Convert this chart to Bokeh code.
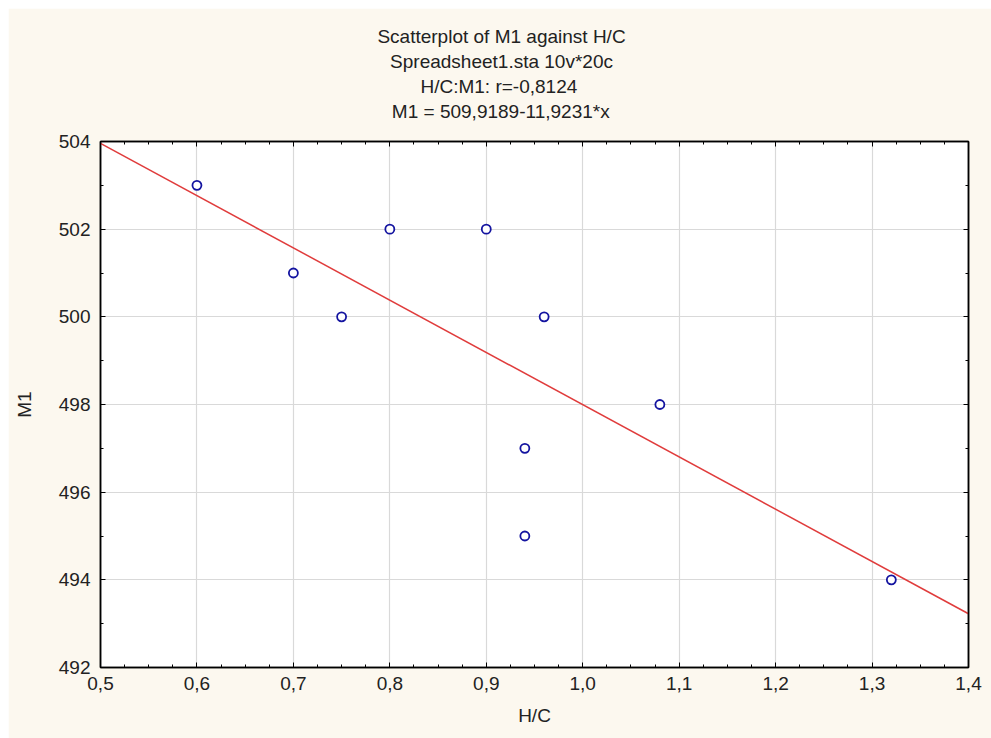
from bokeh.plotting import figure
from bokeh.models import LinearAxis, FixedTicker, CustomJSTickFormatter, Title
from bokeh.embed import file_html
from bokeh.resources import INLINE

hc = [0.60, 0.70, 0.75, 0.80, 0.90, 0.94, 0.94, 0.96, 1.08, 1.32]
m1 = [503, 501, 500, 502, 502, 497, 495, 500, 498, 494]
intercept = 509.9189
slope = -11.9231
x_ticks = [0.5, 0.6, 0.7, 0.8, 0.9, 1.0, 1.1, 1.2, 1.3, 1.4]
y_ticks = [492, 494, 496, 498, 500, 502, 504]
titles = ["Scatterplot of M1 against H/C", "Spreadsheet1.sta 10v*20c",
          "H/C:M1:  r=-0,8124", "M1 = 509,9189-11,9231*x"]

FONT = "Liberation Sans"
BG = "#fcf8ef"
W, H = 983, 730
FS = 19

p = figure(width=W, height=H, output_backend="svg", toolbar_location=None,
           x_range=(0.5, 1.4), y_range=(492, 504),
           min_border_left=92, min_border_right=23, min_border_top=133, min_border_bottom=71,
           border_fill_color=BG, background_fill_color="white",
           outline_line_color="black", outline_line_width=1.5)
p.margin = (8, 0, 0, 8)

xt = FixedTicker(ticks=x_ticks, minor_ticks=[0.5 + 0.025 * i for i in range(37)])
yt = FixedTicker(ticks=y_ticks, minor_ticks=list(range(492, 505)))
fmt = CustomJSTickFormatter(code="return tick.toFixed(1).replace('.', ',');")
blank = CustomJSTickFormatter(code="return '';")

for ax in p.xaxis:
    ax.ticker = xt
    ax.formatter = fmt
    ax.axis_label = "H/C"
for ax in p.yaxis:
    ax.ticker = yt
    ax.axis_label = "M1"

p.add_layout(LinearAxis(ticker=xt, formatter=blank), "above")
p.add_layout(LinearAxis(ticker=yt, formatter=blank), "right")

for ax in p.axis:
    ax.major_tick_in = 5
    ax.major_tick_out = 0
    ax.minor_tick_in = 3
    ax.minor_tick_out = 0
    ax.axis_line_color = "black"
    ax.axis_line_width = 1.5
    ax.major_tick_line_color = "black"
    ax.minor_tick_line_color = "black"
    ax.major_label_text_font = FONT
    ax.major_label_text_font_size = f"{FS}px"
    ax.major_label_text_color = "#222222"
    ax.axis_label_text_font = FONT
    ax.axis_label_text_font_style = "normal"
    ax.axis_label_text_font_size = f"{FS}px"
    ax.axis_label_text_color = "#222222"

p.below[0].major_label_standoff = 9
p.below[0].axis_label_standoff = 12
p.left[0].major_label_standoff = 10
p.left[0].axis_label_standoff = 21
p.above[0].major_label_standoff = 0
p.right[0].major_label_standoff = 0

# invisible spacer axis between the frame and the title block
p.add_layout(LinearAxis(ticker=xt, formatter=blank, major_tick_out=19, major_tick_in=0,
                        minor_tick_out=0, minor_tick_in=0, major_label_standoff=0,
                        axis_line_alpha=0, major_tick_line_alpha=0,
                        minor_tick_line_alpha=0), "above")

p.xgrid.ticker = xt
p.ygrid.ticker = yt
p.grid.grid_line_color = "#d9d9d9"
p.grid.grid_line_width = 1.2

lx = [x_ticks[0], x_ticks[-1]]
ly = [intercept + slope * v for v in lx]
p.line(lx, ly, line_color="#e03c3c", line_width=1.5)
p.scatter(hc, m1, size=9, marker="circle", line_color="#1414a0", line_width=1.8,
          fill_color="white")

# approximate text widths (em) for centring each title line at the same x
em_widths = [13.06, 11.73, 8.53, 11.54]
center = 401
for t, w in reversed(list(zip(titles, em_widths))):
    p.add_layout(Title(text=t, align="left", offset=center - w * FS / 2,
                       text_font=FONT, text_font_size=f"{FS}px",
                       text_font_style="normal", text_color="#222222",
                       standoff=2), "above")

open("out.html", "w").write(file_html(p, INLINE))
